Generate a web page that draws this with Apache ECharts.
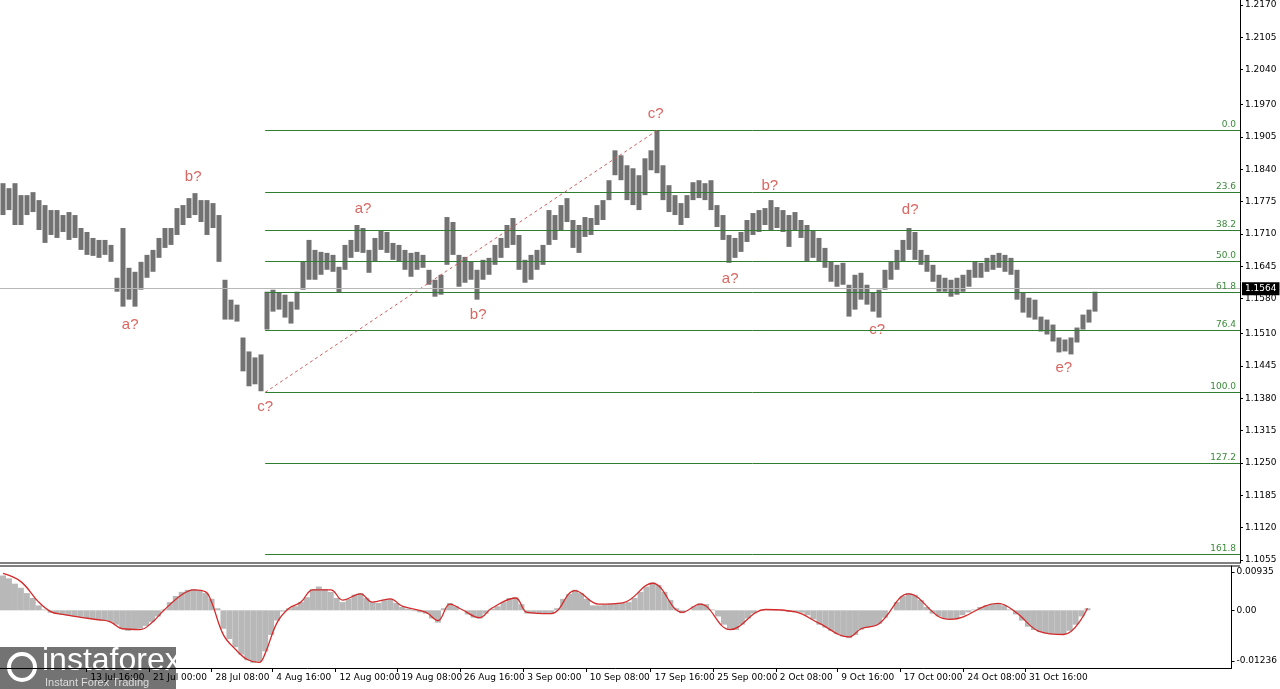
<!DOCTYPE html>
<html><head><meta charset="utf-8">
<script src="https://cdn.jsdelivr.net/npm/echarts@6/dist/echarts.min.js"></script>
<style>html,body{margin:0;padding:0;background:#fff}#c{width:1280px;height:689px}</style>
</head><body><div id="c"></div>
<script>
// ---- data ----
const barHigh = [1.1812,1.1802,1.1812,1.1788,1.1788,1.1794,1.1778,1.1768,1.1758,1.1758,1.1748,1.1754,1.1748,1.1722,1.1714,1.1702,1.1698,1.1698,1.1688,1.1622,
1.1722,1.1642,1.1634,1.1654,1.1668,1.1678,1.1702,1.1722,1.1722,1.1762,1.1768,1.1782,1.1792,1.1778,1.1778,1.1772,1.1748,1.1618,1.1578,1.1568,
1.1502,1.1474,1.1462,1.1468,1.1594,1.1598,1.1592,1.1588,1.1574,1.1594,1.1654,1.1698,1.1678,1.1674,1.1672,1.1668,1.1644,1.1688,1.1698,1.1728,
1.1722,1.1678,1.1702,1.1718,1.1714,1.1692,1.1688,1.1678,1.1672,1.1674,1.1668,1.1638,1.1618,1.1628,1.1744,1.1734,1.1668,1.1664,1.1654,1.1638,
1.1658,1.1662,1.1688,1.1702,1.1728,1.1742,1.1708,1.1658,1.1668,1.1678,1.1688,1.1758,1.1748,1.1768,1.1782,1.1738,1.1728,1.1744,1.1742,1.1768,
1.1778,1.1818,1.1878,1.1868,1.1848,1.1842,1.1828,1.1862,1.1878,1.1918,1.1848,1.1808,1.1788,1.1772,1.1788,1.1814,1.1818,1.1812,1.1818,1.1768,
1.1748,1.1708,1.1702,1.1714,1.1738,1.1752,1.1758,1.1762,1.1778,1.1764,1.1758,1.1748,1.1754,1.1738,1.1728,1.1718,1.1702,1.1682,1.1654,1.1648,
1.1652,1.1608,1.1628,1.1632,1.1608,1.1592,1.1598,1.1638,1.1654,1.1678,1.1698,1.1722,1.1714,1.1678,1.1668,1.1648,1.1628,1.1622,1.1618,1.1622,
1.1628,1.1638,1.1654,1.1652,1.1662,1.1668,1.1672,1.1668,1.1662,1.1638,1.1592,1.1582,1.1578,1.1544,1.1538,1.1528,1.1502,1.1498,1.1502,1.1522,
1.1548,1.1558,1.1594];
const barLow = [1.1748,1.1758,1.1728,1.1728,1.1748,1.1754,1.1718,1.1692,1.1708,1.1702,1.1714,1.1698,1.1702,1.1678,1.1668,1.1666,1.1662,1.1668,1.1654,1.1594,
1.1564,1.1578,1.1564,1.1598,1.1622,1.1634,1.1662,1.1682,1.1688,1.1708,1.1728,1.1742,1.1748,1.1734,1.1708,1.1722,1.1654,1.1538,1.1538,1.1534,
1.1434,1.1404,1.1408,1.1394,1.1518,1.1554,1.1558,1.1542,1.1530,1.1558,1.1598,1.1618,1.1618,1.1628,1.1638,1.1634,1.1592,1.1638,1.1662,1.1674,
1.1672,1.1632,1.1654,1.1678,1.1672,1.1658,1.1654,1.1638,1.1624,1.1638,1.1642,1.1608,1.1584,1.1588,1.1648,1.1668,1.1604,1.1612,1.1618,1.1578,
1.1618,1.1628,1.1648,1.1662,1.1682,1.1688,1.1638,1.1612,1.1618,1.1638,1.1648,1.1688,1.1698,1.1718,1.1734,1.1682,1.1672,1.1704,1.1708,1.1728,
1.1738,1.1778,1.1828,1.1818,1.1778,1.1768,1.1758,1.1788,1.1838,1.1832,1.1778,1.1754,1.1748,1.1728,1.1742,1.1778,1.1782,1.1778,1.1758,1.1724,
1.1698,1.1652,1.1662,1.1674,1.1694,1.1708,1.1714,1.1728,1.1718,1.1722,1.1714,1.1684,1.1718,1.1702,1.1654,1.1662,1.1654,1.1642,1.1614,1.1604,
1.1608,1.1544,1.1558,1.1578,1.1568,1.1554,1.1542,1.1598,1.1618,1.1638,1.1654,1.1678,1.1658,1.1648,1.1634,1.1614,1.1594,1.1594,1.1584,1.1588,
1.1594,1.1604,1.1622,1.1622,1.1634,1.1638,1.1642,1.1634,1.1628,1.1578,1.1552,1.1542,1.1538,1.1514,1.1508,1.1494,1.1472,1.1474,1.1468,1.1492,
1.1518,1.1532,1.1554];
const macdHist = [85,78,65,55,42,30,12,2,-6,-9,-11,-13,-15,-17,-19,-21,-23,-25,-28,-35,
-45,-50,-48,-45,-38,-28,-15,2,20,35,45,50,52,48,42,28,5,-45,-70,-90,
-108,-122,-128,-125,-100,-60,-25,-3,5,10,20,32,52,58,52,45,30,20,28,38,
42,30,20,18,25,28,18,8,4,-2,-5,-8,-20,-30,5,18,10,0,-10,-18,
-20,-8,4,10,20,30,32,15,-8,-8,-7,-7,-7,5,28,40,50,42,28,12,
12,14,16,17,18,20,30,45,58,68,62,45,25,5,-7,0,10,17,15,2,
-15,-35,-48,-48,-35,-20,-8,0,3,2,1,-2,-4,-5,-6,-12,-22,-35,-42,-50,
-58,-64,-68,-60,-47,-42,-38,-33,-18,0,20,35,42,38,25,8,-8,-15,-20,-22,
-20,-12,-5,2,8,12,16,17,12,2,-10,-25,-40,-48,-53,-56,-58,-59,-58,-50,
-35,-15,5];
const signalIdx = [0,3,6,8,10,13,16,18,20,23,25,27,30,32,34,35,37,39,41,43,44,46,48,50,52,55,57,60,62,65,67,71,73,75,77,80,82,86,88,92,96,100,104,109,114,117,122,128,133,137,142,144,147,152,157,159,167,170,174,178,182];
const signalVal = [90,70,20,-3,-10,-17,-23,-28,-45,-47,-30,0,38,50,45,20,-60,-95,-120,-127,-105,-30,5,20,50,50,25,40,20,28,10,-5,-25,15,2,-18,5,30,-5,-8,48,15,18,66,-5,15,-47,2,-4,-32,-65,-45,-33,40,-15,-22,17,-5,-52,-59,5];
const priceTicks = [1.1055,1.1120,1.1185,1.1250,1.1315,1.1380,1.1445,1.1510,1.1580,1.1645,1.1710,1.1775,1.1840,1.1905,1.1970,1.2040,1.2105,1.2170];
const macdTicks = [0.00935,0,-0.01236];
const dateLabels = ['13 Jul 16:00','21 Jul 00:00','28 Jul 08:00','4 Aug 16:00','12 Aug 00:00','19 Aug 08:00','26 Aug 16:00','3 Sep 00:00','10 Sep 08:00','17 Sep 16:00','25 Sep 00:00','2 Oct 08:00','9 Oct 16:00','17 Oct 00:00','24 Oct 08:00','31 Oct 16:00'];
const dateIdx = [14,24.5,35,45.2,55.8,66.2,76.7,87.3,97.8,108.7,119.2,129.7,140,150.5,161.2,171.5];
const fibPct = [0.0,23.6,38.2,50.0,61.8,76.4,100.0,127.2,161.8];
const swingHigh = 1.1918, swingLow = 1.1392, swingLowIdx = 43.7, swingHighIdx = 109;
const lastPrice = 1.1564;
const waveText  = ['b?','a?','c?','a?','b?','c?','a?','b?','c?','d?','e?'];
const waveIdx   = [31.7,21.2,43.7,60,79.2,108.8,121.2,127.8,145.7,151.2,176.8];
const wavePrice = [1.1824,1.1528,1.1362,1.1760,1.1548,1.1952,1.1620,1.1806,1.1518,1.1758,1.1442];

// ---- chart ----
const XMAX = 206.17, XMIN = -0.5;
const chart = echarts.init(document.getElementById('c'));
const ohlc = barHigh.map((h,i)=>[i,h,barLow[i]]);
const fibLines = fibPct.map(p=>{
  const v = swingHigh - p/100*(swingHigh-swingLow);
  return [{coord:[swingLowIdx,v]},{coord:[XMAX,v],label:{formatter:p.toFixed(1)}}];
});
const font = 'DejaVu Sans';
chart.setOption({
  animation:false,
  backgroundColor:'#fff',
  grid:[{left:0,top:0,width:1240,height:563},{left:0,top:566,width:1240,height:102}],
  xAxis:[
    {gridIndex:0,type:'value',min:XMIN,max:XMAX,show:false},
    {gridIndex:1,type:'value',min:XMIN,max:XMAX,splitLine:{show:false},
     axisLine:{onZero:false,lineStyle:{color:'#000'}},
     axisTick:{customValues:dateIdx,length:4,lineStyle:{color:'#000'}},
     axisLabel:{customValues:dateIdx,formatter:v=>{const i=dateIdx.findIndex(d=>Math.abs(d-v)<1e-6);return i>=0?dateLabels[i]:'';},
       align:'left',color:'#000',fontSize:9,fontFamily:font,margin:5,padding:[0,0,0,4]}}
  ],
  yAxis:[
    {gridIndex:0,type:'value',position:'right',min:1.1049,max:1.2180,splitLine:{show:false},
     axisLine:{show:true,onZero:false,lineStyle:{color:'#000'}},
     axisTick:{show:true,customValues:priceTicks,length:3,lineStyle:{color:'#000'}},
     axisLabel:{customValues:priceTicks,formatter:v=>v.toFixed(4),color:'#000',fontSize:9,fontFamily:font,margin:5}},
    {gridIndex:1,type:'value',position:'right',min:-0.01407,max:0.01081,splitLine:{show:false},
     axisLine:{show:true,onZero:false,lineStyle:{color:'#000'}},
     axisTick:{show:true,customValues:macdTicks,length:3,lineStyle:{color:'#000'}},
     axisLabel:{customValues:macdTicks,formatter:v=>v===0?'0.00':String(v),color:'#000',fontSize:9,fontFamily:font,margin:5}}
  ],
  series:[
    {type:'line',xAxisIndex:0,yAxisIndex:0,data:[],silent:true,
     markLine:{silent:true,symbol:'none',animation:false,
       lineStyle:{color:'#2f7d2f',width:1,type:'solid'},
       label:{position:'insideEndTop',color:'#3a8a3a',fontSize:9,fontFamily:font,distance:[4,1]},
       data:fibLines.concat([[{coord:[swingLowIdx,swingLow],lineStyle:{color:'#d06060',type:[3,3],width:1},label:{show:false}},{coord:[swingHighIdx,swingHigh]}]])}},
    {type:'custom',xAxisIndex:0,yAxisIndex:0,data:ohlc,encode:{x:0,y:[1,2]},
     renderItem:(params,api)=>{
       const x=api.value(0);const p1=api.coord([x,api.value(1)]);const p2=api.coord([x,api.value(2)]);
       return {type:'rect',shape:{x:p1[0]-2.5,y:p1[1],width:5,height:Math.max(1,p2[1]-p1[1])},style:{fill:'#727272'}};
     },
     markLine:{silent:true,symbol:'none',lineStyle:{color:'#b8b8b8',width:1,type:'solid'},
       label:{position:'end',formatter:lastPrice.toFixed(4),backgroundColor:'#000',color:'#fff',fontSize:9,fontFamily:font,padding:[2,3],distance:2},
       data:[{yAxis:lastPrice}]}},
    {type:'scatter',xAxisIndex:0,yAxisIndex:0,symbolSize:0,data:waveIdx.map((x,i)=>[x,wavePrice[i],waveText[i]]),
     label:{show:true,position:'inside',formatter:p=>p.data[2],color:'#d0403a',fontSize:15,fontFamily:'Liberation Sans'}},
    {type:'bar',xAxisIndex:1,yAxisIndex:1,data:macdHist.map((v,i)=>[i,v/10000]),barWidth:6,itemStyle:{color:'#b8b8b8'}},
    {type:'line',xAxisIndex:1,yAxisIndex:1,data:signalIdx.map((x,i)=>[x,signalVal[i]/10000]),smooth:0.4,showSymbol:false,
     lineStyle:{color:'#d42a2a',width:1.3}}
  ],
  graphic:[
    {type:'line',shape:{x1:0,y1:563,x2:1240,y2:563},style:{stroke:'#000',lineWidth:1}},
    {type:'line',shape:{x1:0,y1:566,x2:1240,y2:566},style:{stroke:'#000',lineWidth:1}},
    {type:'group',left:0,top:645,children:[
      {type:'rect',shape:{x:0,y:0,width:176,height:44},style:{fill:'rgba(90,90,90,0.85)'}},
      {type:'circle',shape:{cx:22,cy:20,r:13},style:{fill:'none',stroke:'#fff',lineWidth:4}},
      {type:'text',x:42,y:-2,style:{text:'instaforex',fill:'#fff',font:'32px "Liberation Sans"'}},
      {type:'text',x:45,y:30,style:{text:'Instant Forex Trading',fill:'#ddd',font:'11px "Liberation Sans"'}}
    ]}
  ]
});
</script></body></html>
